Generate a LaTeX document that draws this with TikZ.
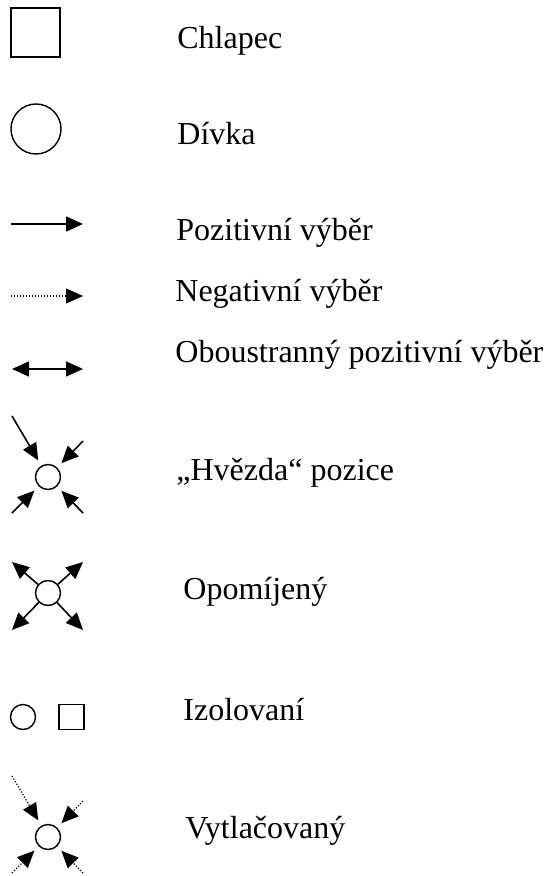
\documentclass[tikz,border=0pt]{standalone}
\usepackage{fontspec}
\setmainfont{Liberation Serif}
\usetikzlibrary{arrows.meta,positioning}

\begin{document}
\begin{tikzpicture}[x=0.5pt,y=-0.5pt,
  every node/.style={font=\fontsize{16}{20}\selectfont},
  label/.style={anchor=base west,inner sep=0pt},
  sym/.style={draw,line width=0.7pt,inner sep=0pt},
  tip/.style={-{Triangle[length=8.5pt,width=7.5pt]},line width=0.8pt},
  dots/.style={dash pattern=on 0.6pt off 0.9pt}]
\useasboundingbox (0,0) rectangle (548,876);
% symboly
\node[sym,minimum size=24.5pt] (boy) at (35.5,32.5) {};
\node[sym,circle,minimum size=25pt] (girl) at (36,129) {};
\coordinate (pa) at (11,224); \coordinate (pb) at (83,224);
\coordinate (na) at (11,296); \coordinate (nb) at (83,296);
\coordinate (oa) at (12,369); \coordinate (ob) at (83,369);
\draw[tip] (pa) -- (pb);
\draw[tip,line width=0.6pt,dots] (na) -- (nb);
\draw[line width=0.8pt,{Triangle[length=8.5pt,width=7.5pt]}-{Triangle[length=8.5pt,width=7.5pt]}] (oa) -- (ob);
% hvezda
\node[sym,circle,minimum size=12.5pt] (star) at (48,477) {};
\coordinate (s1) at (12,416); \coordinate (s2) at (83,441);
\coordinate (s3) at (12,513); \coordinate (s4) at (83,513);
\foreach \c in {s1,s2,s3,s4}
  \draw[tip,shorten >=3pt] (\c) -- (star);
% opomijeny
\node[sym,circle,minimum size=12.5pt] (neg) at (48,593) {};
\coordinate (o1) at (12,562); \coordinate (o2) at (83,562);
\coordinate (o3) at (12,630); \coordinate (o4) at (83,630);
\foreach \c in {o1,o2,o3,o4}
  \draw[tip] (neg) -- (\c);
% izolovani
\node[sym,circle,minimum size=12.5pt] (isog) at (23,717) {};
\node[sym,minimum size=12.5pt] (isob) at (71.5,717) {};
% vytlacovany
\node[sym,circle,minimum size=12.5pt] (rej) at (48,837) {};
\coordinate (v1) at (12,776); \coordinate (v2) at (83,801);
\coordinate (v3) at (12,873); \coordinate (v4) at (83,873);
\foreach \c in {v1,v2,v3,v4}
  \draw[tip,line width=0.6pt,dots,shorten >=3pt] (\c) -- (rej);
% popisky
\node[label] (t1) at (177,49) {Chlapec};
\node[label] (t2) at (177,145) {Dívka};
\node[label] (t3) at (176,241) {Pozitivní výběr};
\node[label] (t4) at (175,302) {Negativní výběr};
\node[label] (t5) at (175,363) {Oboustranný pozitivní výběr};
\node[label] (t6) at (176,480) {„Hvězda“ pozice};
\node[label] (t7) at (183,599) {Opomíjený};
\node[label] (t8) at (183,720) {Izolovaní};
\node[label] (t9) at (185,838) {Vytlačovaný};
\end{tikzpicture}
\end{document}
